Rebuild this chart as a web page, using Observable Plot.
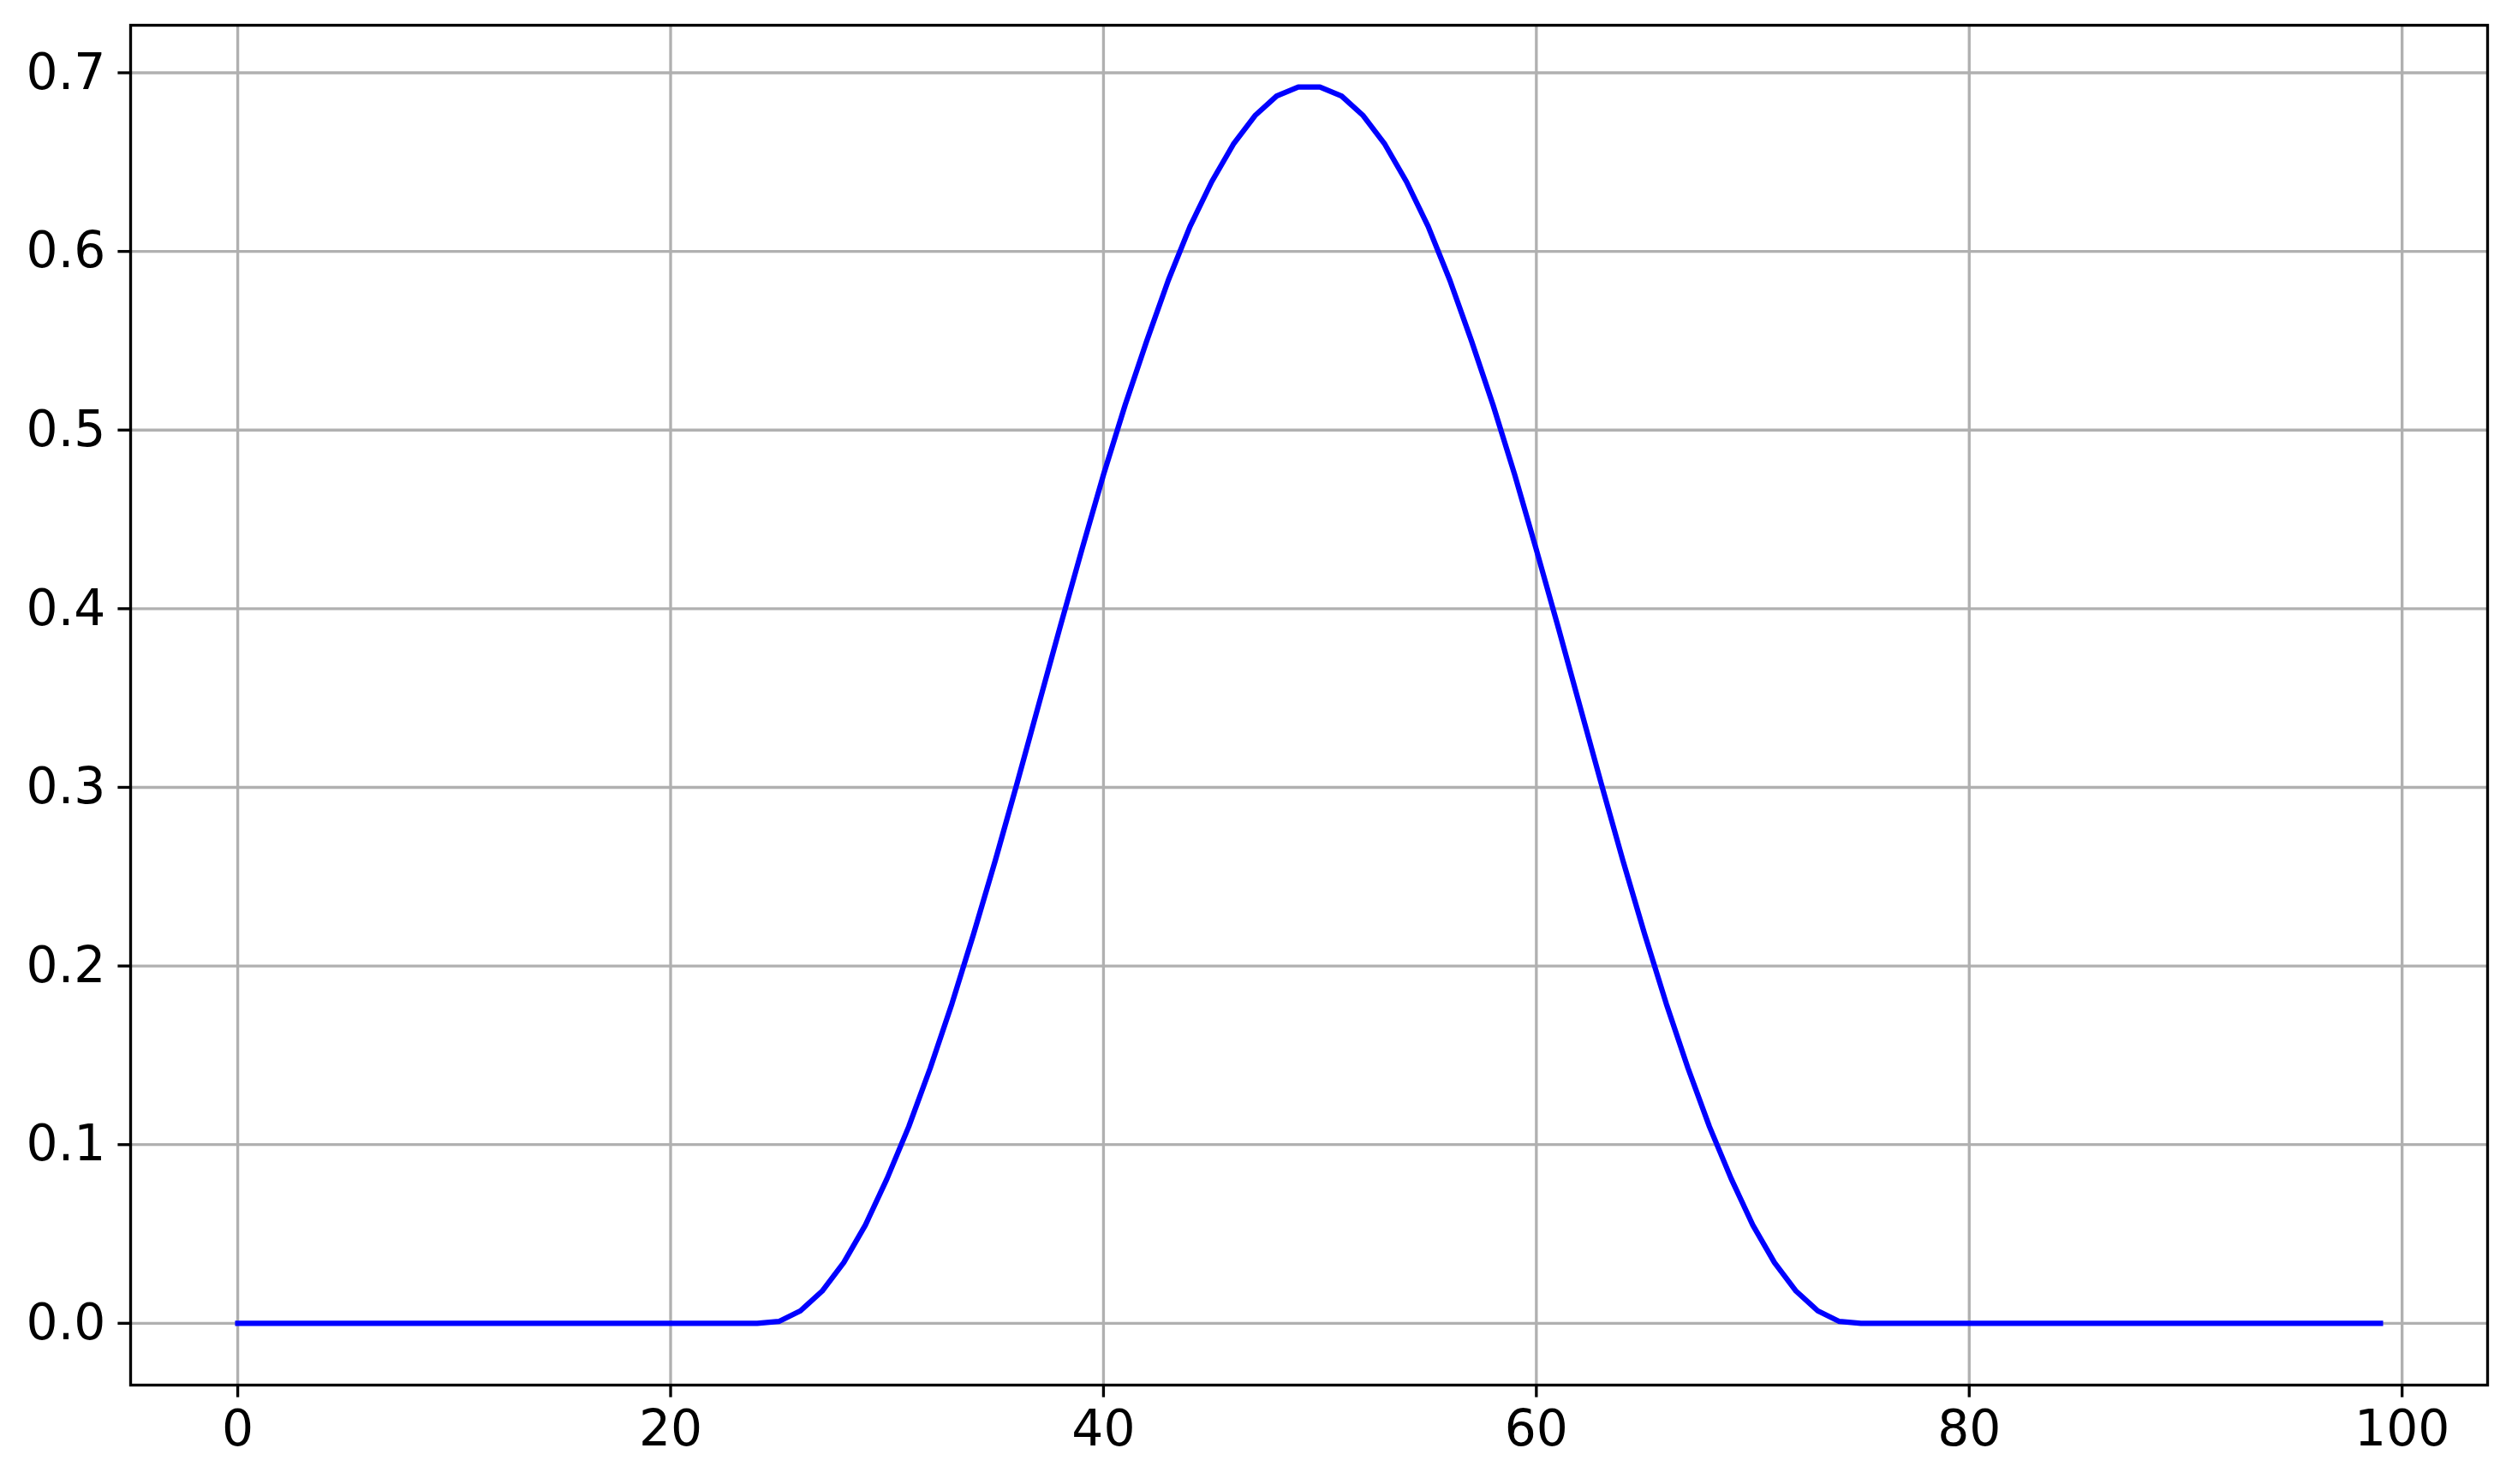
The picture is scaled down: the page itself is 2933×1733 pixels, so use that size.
<!DOCTYPE html>
<html>
<head>
<meta charset="utf-8">
<script src="https://cdn.jsdelivr.net/npm/d3@7"></script>
<script src="https://cdn.jsdelivr.net/npm/@observablehq/plot@0.6"></script>
<style>
  html, body { margin: 0; padding: 0; background: #fff; overflow: hidden; }
  #chart svg { display: block; }
</style>
</head>
<body>
<div id="chart"></div>
<script>
// Sample index (x) and value (y)
const xValues = [
  0,1,2,3,4,5,6,7,8,9,10,11,12,13,14,15,16,17,18,19,
  20,21,22,23,24,25,26,27,28,29,30,31,32,33,34,35,36,37,38,39,
  40,41,42,43,44,45,46,47,48,49,50,51,52,53,54,55,56,57,58,59,
  60,61,62,63,64,65,66,67,68,69,70,71,72,73,74,75,76,77,78,79,
  80,81,82,83,84,85,86,87,88,89,90,91,92,93,94,95,96,97,98,99
];
const yValues = [
  0,0,0,0,0,0,0,0,0,0,0,0,0,0,0,0,0,0,0,0,0,0,0,0,0,
  0.001,0.007,0.018,0.034,0.055,0.081,0.110,0.143,0.179,0.218,
  0.259,0.302,0.346,0.390,0.433,0.475,0.514,0.550,0.584,0.614,
  0.639,0.660,0.676,0.687,0.692,0.692,0.687,0.676,0.660,0.639,
  0.614,0.584,0.550,0.514,0.475,0.433,0.390,0.346,0.302,0.259,
  0.218,0.179,0.143,0.110,0.081,0.055,0.034,0.018,0.007,0.001,
  0,0,0,0,0,0,0,0,0,0,0,0,0,0,0,0,0,0,0,0,0,0,0,0,0
];
const xTicks = [0, 20, 40, 60, 80, 100];
const yTicks = [0, 0.1, 0.2, 0.3, 0.4, 0.5, 0.6, 0.7];

const data = xValues.map((x, i) => ({x, y: yValues[i]}));

const W = 2933, H = 1733;
const FONT = 58.3, TICK = 14.6, PAD = 14.6, LW = 3.33;

const chart = Plot.plot({
  width: W,
  height: H,
  marginLeft: 152,
  marginRight: 29,
  marginTop: 29,
  marginBottom: 116,
  style: {fontFamily: "DejaVu Sans", fontSize: FONT + "px", background: "#fff", color: "#000"},
  x: {domain: [-4.95, 103.95]},
  y: {domain: [-0.0346, 0.7266]},
  marks: [
    Plot.gridX(xTicks, {stroke: "#b0b0b0", strokeOpacity: 1, strokeWidth: LW}),
    Plot.gridY(yTicks, {stroke: "#b0b0b0", strokeOpacity: 1, strokeWidth: LW}),
    Plot.line(data, {x: "x", y: "y", stroke: "blue", strokeWidth: 6.25, strokeLinecap: "square", strokeLinejoin: "round"}),
    Plot.frame({stroke: "#000", strokeWidth: LW}),
    Plot.axisX(xTicks, {anchor: "bottom", label: null, tickSize: TICK, tickPadding: PAD, strokeWidth: LW, fontSize: FONT, tickFormat: d => String(d)}),
    Plot.axisY(yTicks, {anchor: "left", label: null, tickSize: TICK, tickPadding: PAD, strokeWidth: LW, fontSize: FONT, tickFormat: d => d.toFixed(1)})
  ]
});
document.getElementById("chart").appendChild(chart);
</script>
</body>
</html>
